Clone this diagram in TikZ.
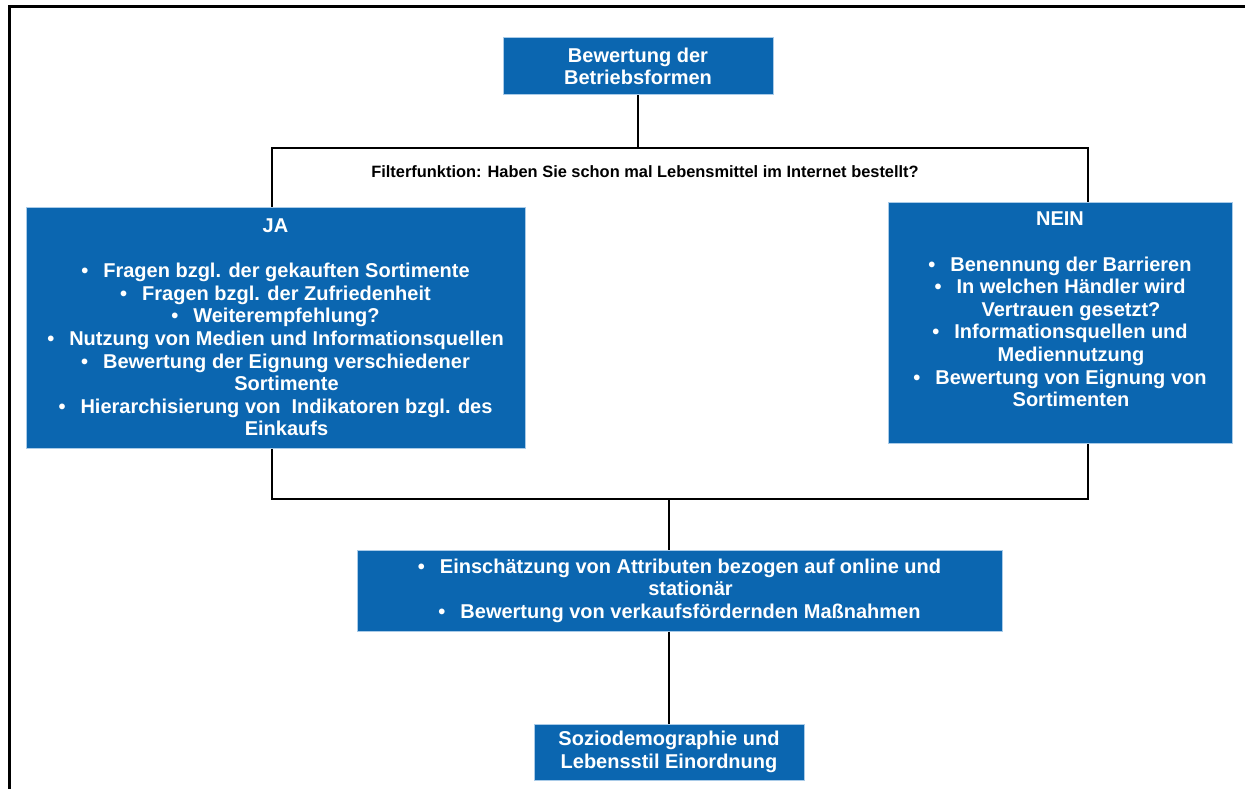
\documentclass[tikz,border=0pt]{standalone}
\usepackage{fontspec}
\setmainfont{Liberation Sans}
\definecolor{boxblue}{HTML}{0B66B0}
\definecolor{boxedge}{HTML}{A9CBE8}
\newcommand{\bul}{•\hspace{0.75em}}
\newcommand{\cont}{\hphantom{•\hspace{0.75em}}}
\begin{document}
\begin{tikzpicture}[x=1pt,y=-1pt,
  bluebox/.style={draw=boxedge, line width=1pt, fill=boxblue, text=white,
    font=\bfseries\fontsize{20}{22.6}\selectfont, align=center, inner sep=0pt},
  conn/.style={draw=black, line width=1.3pt}]
\useasboundingbox (0,0) rectangle (1245,789);
% frame
\draw[line width=3.6pt] (9.5,789) -- (9.5,6.5) -- (1245,6.5);
% boxes
\node[bluebox, minimum width=270pt, minimum height=57pt] (top) at (638,66.5)
  {Bewertung der\\Betriebsformen};
\node[bluebox, minimum width=499pt, minimum height=241pt] (ja) at (275.5,327.5)
  {JA\\[22.6pt]
   \bul Fragen bzgl. der gekauften Sortimente\\
   \bul Fragen bzgl. der Zufriedenheit\\
   \bul Weiterempfehlung?\\
   \bul Nutzung von Medien und Informationsquellen\\
   \bul Bewertung der Eignung verschiedener\\
   \cont Sortimente\\
   \bul Hierarchisierung von\ \ Indikatoren bzgl. des\\
   \cont Einkaufs};
\node[bluebox, minimum width=344pt, minimum height=241pt] (nein) at (1060,322.5)
  {NEIN\\[22.6pt]
   \bul Benennung der Barrieren\\
   \bul In welchen Händler wird\\
   \cont Vertrauen gesetzt?\\
   \bul Informationsquellen und\\
   \cont Mediennutzung\\
   \bul Bewertung von Eignung von\\
   \cont Sortimenten\\[3.5pt]\mbox{}};
\node[bluebox, minimum width=645pt, minimum height=81pt] (mid) at (679.5,590.5)
  {\bul Einschätzung von Attributen bezogen auf online und\\
   \cont stationär\\
   \bul Bewertung von verkaufsfördernden Maßnahmen};
\node[bluebox, minimum width=270pt, minimum height=56pt] (bot) at (669,752)
  {Soziodemographie und\\Lebensstil Einordnung};
% filter text
\node[font=\bfseries\fontsize{16.4}{18}\selectfont, inner sep=0pt] (filter) at (645,172)
  {Filterfunktion: Haben Sie schon mal Lebensmittel im Internet bestellt?};
% connectors
\coordinate (hl) at (272,148);
\coordinate (hr) at (1088,148);
\coordinate (bl) at (272,499);
\coordinate (br) at (1088,499);
\coordinate (bm) at (669,499);
\draw[conn] (top.south) -- (top.south |- hl);
\draw[conn] (hl |- ja.north) -- (hl) -- (hr) -- (hr |- nein.north);
\draw[conn] (bl |- ja.south) -- (bl) -- (br) -- (br |- nein.south);
\draw[conn] (bm) -- (bm |- mid.north);
\draw[conn] (bot.north |- mid.south) -- (bot.north);
\end{tikzpicture}
\end{document}
